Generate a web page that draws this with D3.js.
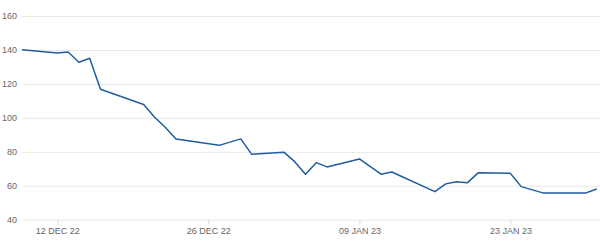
<!DOCTYPE html>
<html>
<head>
<meta charset="utf-8">
<script src="https://cdn.jsdelivr.net/npm/d3@7"></script>
<style>
  html, body { margin: 0; padding: 0; background: #fff; }
  svg { display: block; }
  .tick text { font-family: "Liberation Sans", Arial, sans-serif; font-size: 9px; fill: #666; }
</style>
</head>
<body>
<svg id="chart" width="600" height="251"></svg>
<script>
const dates = [
  "2022-12-08","2022-12-12","2022-12-13","2022-12-14","2022-12-15","2022-12-16",
  "2022-12-20","2022-12-21","2022-12-22","2022-12-23","2022-12-27","2022-12-29",
  "2022-12-30","2023-01-02","2023-01-03","2023-01-04","2023-01-05","2023-01-06",
  "2023-01-09","2023-01-11","2023-01-12","2023-01-16","2023-01-17","2023-01-18",
  "2023-01-19","2023-01-20","2023-01-23","2023-01-24","2023-01-26","2023-01-30",
  "2023-01-31"
];
const values = [
  140.6, 138.2, 138.8, 132.8, 135.1, 116.8,
  107.9, 100.5, 94.5, 87.5, 83.8, 87.6,
  78.6, 79.8, 74.2, 66.8, 73.6, 71.1,
  75.8, 66.8, 68.1, 56.5, 61.1, 62.4,
  61.7, 67.6, 67.3, 59.5, 55.8, 55.8,
  58.1
];
const yTicks = [40, 60, 80, 100, 120, 140, 160];
const xTickDates = ["2022-12-12", "2022-12-26", "2023-01-09", "2023-01-23"];
const xDomain = ["2022-12-08T17:24", "2023-01-31T05:00"];
const yDomain = [40, 160];

(function () {
const parseDay = d3.timeParse("%Y-%m-%d");
const parseDT = d3.timeParse("%Y-%m-%dT%H:%M");
const data = dates.map((d, i) => ({ date: parseDay(d), value: values[i] }));

const svg = d3.select("#chart");
const mLeft = 22, mRight = 599, mTop = 16, mBottom = 219.7;

const x = d3.scaleTime().domain(xDomain.map(parseDT)).range([mLeft, mRight]);
const y = d3.scaleLinear().domain(yDomain).range([mBottom, mTop]);

// y grid + labels
const yAxis = d3.axisLeft(y).tickValues(yTicks).tickSize(-(600 - mLeft)).tickPadding(4);
const gy = svg.append("g").attr("transform", `translate(${mLeft},0)`).call(yAxis);
gy.select(".domain").remove();
gy.selectAll(".tick line").attr("stroke", "#e9e9e9").attr("stroke-width", 1);
gy.selectAll(".tick text").attr("x", -5);

// x axis ticks
const fmt = d3.timeFormat("%d %b %y");
const xAxis = d3.axisBottom(x).tickValues(xTickDates.map(parseDay))
  .tickFormat(d => fmt(d).toUpperCase()).tickSize(5).tickPadding(3);
const gx = svg.append("g").attr("transform", `translate(0,${mBottom})`).call(xAxis);
gx.select(".domain").remove();
gx.selectAll(".tick line").attr("stroke", "#dcdcdc");

// clip
svg.append("clipPath").attr("id", "clip").append("rect")
  .attr("x", mLeft).attr("y", 0).attr("width", mRight - mLeft + 1).attr("height", 251);

const line = d3.line().x(d => x(d.date)).y(d => y(d.value));
svg.append("path").datum(data)
  .attr("clip-path", "url(#clip)")
  .attr("fill", "none")
  .attr("stroke", "#1f5d9e")
  .attr("stroke-width", 1.5)
  .attr("stroke-linejoin", "round")
  .attr("d", line);
})();
</script>
</body>
</html>
